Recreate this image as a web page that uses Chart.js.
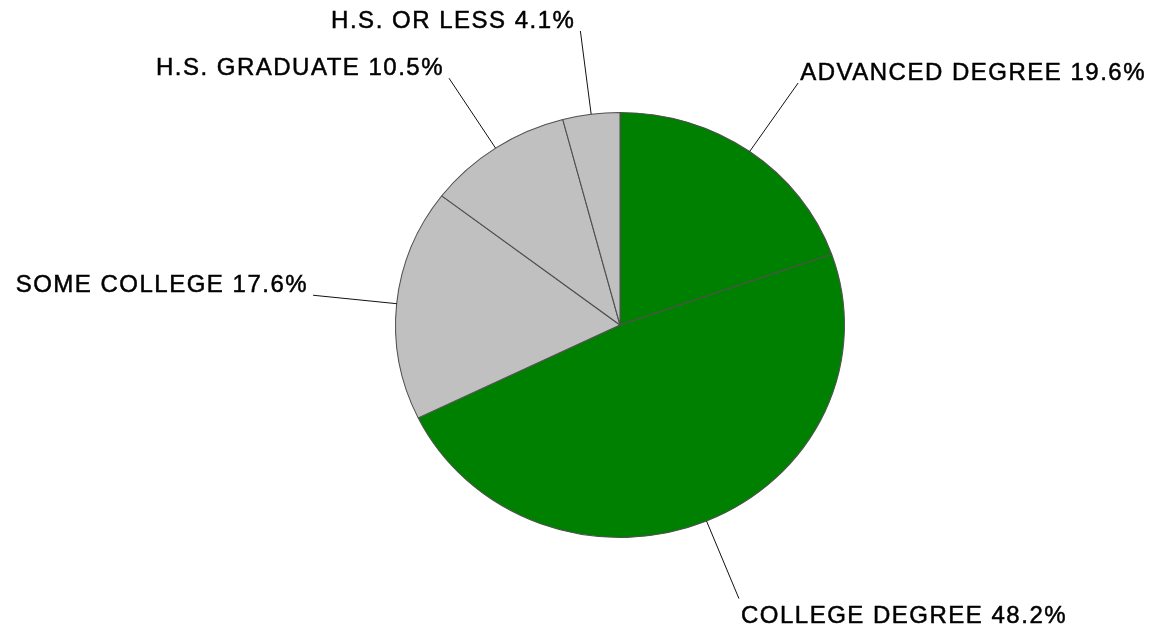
<!DOCTYPE html>
<html>
<head>
<meta charset="utf-8">
<script src="https://cdn.jsdelivr.net/npm/chart.js@4/dist/chart.umd.min.js"></script>
<style>
  html, body { margin: 0; padding: 0; background: #fff; }
  #wrap { width: 1152px; height: 627px; }
</style>
</head>
<body>
<div id="wrap"><canvas id="pie"></canvas></div>
<script>
// slices, clockwise from 12 o'clock
var categories = ["ADVANCED DEGREE", "COLLEGE DEGREE", "SOME COLLEGE", "H.S. GRADUATE", "H.S. OR LESS"];
var shares = [19.6, 48.2, 17.6, 10.5, 4.1];
var sliceColors = ["#008000", "#008000", "#c0c0c0", "#c0c0c0", "#c0c0c0"];

var stretchX = 225 / 213; // the original pie is a bit wider than tall
var leaderLen = 84;

// squash the drawn pie into an ellipse
var ellipsePlugin = {
  id: 'ellipse',
  beforeDatasetsDraw: function(chart) {
    var arc = chart.getDatasetMeta(0).data[0];
    var ctx = chart.ctx;
    ctx.save();
    ctx.translate(arc.x, arc.y);
    ctx.scale(stretchX, 1);
    ctx.translate(-arc.x, -arc.y);
  },
  afterDatasetsDraw: function(chart) {
    chart.ctx.restore();
  }
};

// leader lines + labels
var labelPlugin = {
  id: 'leaderLabels',
  afterDraw: function(chart) {
    var ctx = chart.ctx;
    var meta = chart.getDatasetMeta(0);
    ctx.save();
    ctx.font = '24px "Liberation Sans", Arial, sans-serif';
    ctx.letterSpacing = '1.5px';
    ctx.fillStyle = '#000';
    meta.data.forEach(function(arc, i) {
      var p = arc.getProps(['x', 'y', 'startAngle', 'endAngle', 'outerRadius'], true);
      var a = (p.startAngle + p.endAngle) / 2;
      var r = p.outerRadius, rx = r * stretchX;
      var sx = p.x + rx * Math.cos(a), sy = p.y + r * Math.sin(a);
      var ex = p.x + (rx + leaderLen) * Math.cos(a), ey = p.y + (r + leaderLen) * Math.sin(a);
      ctx.strokeStyle = '#111';
      ctx.lineWidth = 1;
      ctx.beginPath();
      ctx.moveTo(sx, sy);
      ctx.lineTo(ex, ey);
      ctx.stroke();
      var txt = chart.data.labels[i] + ' ' + shares[i].toFixed(1) + '%';
      ctx.textBaseline = 'alphabetic';
      var tx, ty;
      if (Math.cos(a) >= 0) { ctx.textAlign = 'left'; tx = ex + 2; }
      else { ctx.textAlign = 'right'; tx = ex - 5; }
      if (Math.sin(a) < 0) ty = ey - 3; else ty = ey + 24;
      ctx.fillText(txt, tx, ty);
      // thicken the glyphs a little, the original text is heavy
      ctx.strokeStyle = '#000';
      ctx.lineWidth = 0.5;
      ctx.strokeText(txt, tx, ty);
    });
    ctx.restore();
  }
};

var ctx = document.getElementById('pie').getContext('2d');
var myChart = new Chart(ctx, {
  type: 'pie',
  data: {
    labels: categories,
    datasets: [{
      data: shares,
      backgroundColor: sliceColors,
      borderColor: '#505050',
      borderWidth: 1
    }]
  },
  options: {
    responsive: true,
    maintainAspectRatio: false,
    animation: false,
    layout: { padding: { left: 370, right: 282, top: 112, bottom: 89 } },
    plugins: {
      legend: { display: false },
      tooltip: { enabled: false }
    }
  },
  plugins: [ellipsePlugin, labelPlugin]
});
</script>
</body>
</html>
